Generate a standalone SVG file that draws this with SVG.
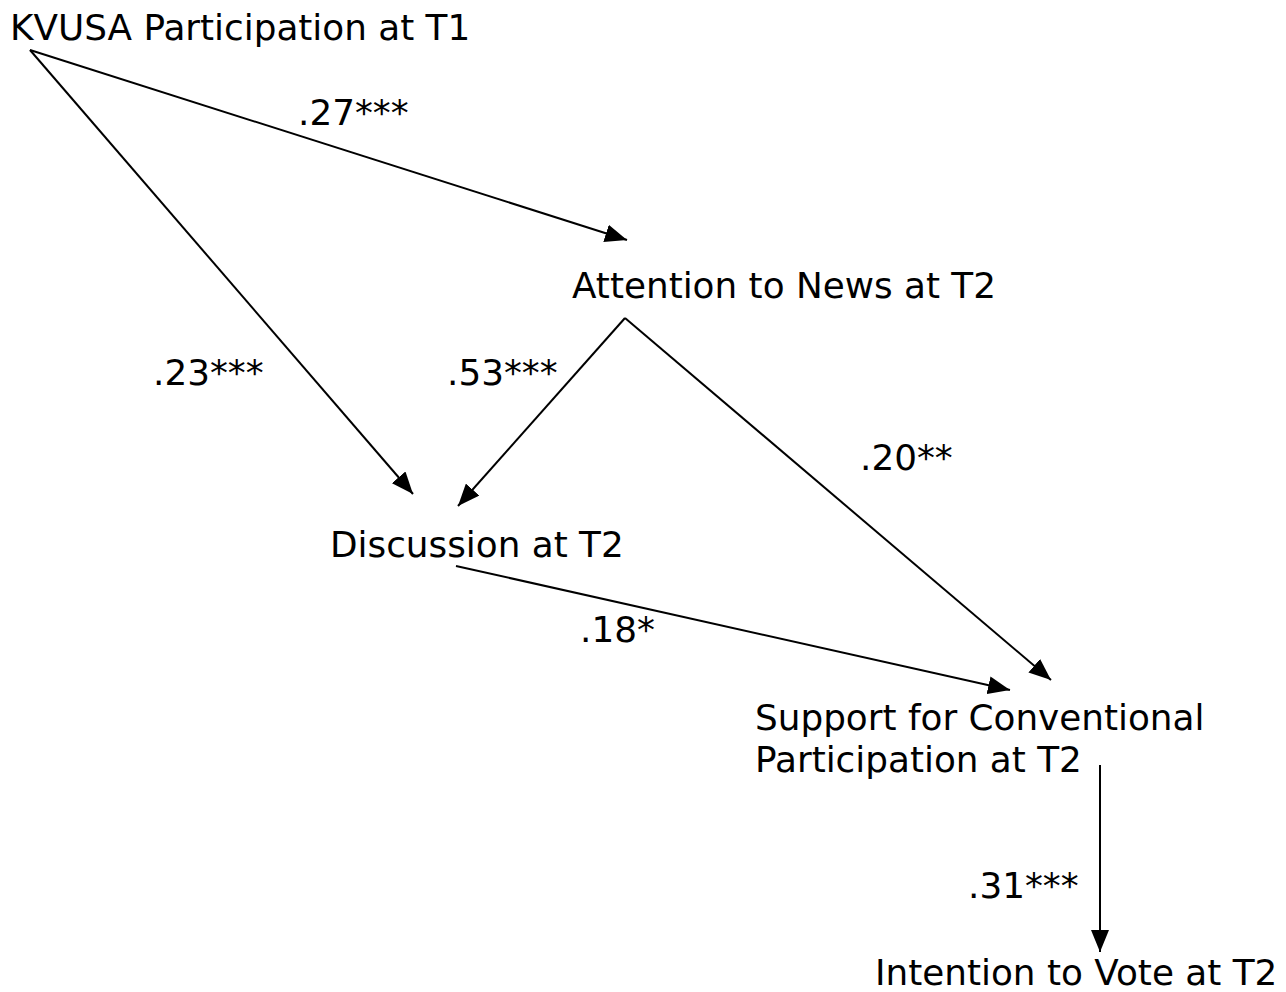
<svg xmlns="http://www.w3.org/2000/svg" width="1286" height="992" viewBox="0 0 1286 992">
<style>
text{font-family:"DejaVu Sans",Verdana,sans-serif;font-size:35.8px;fill:#000}
.c line{stroke:#000;stroke-width:2;marker-end:url(#ah)}
</style>
<defs>
<marker id="ah" viewBox="0 0 22 18" refX="22" refY="9" markerWidth="22" markerHeight="18" markerUnits="userSpaceOnUse" orient="auto">
<path d="M0,0L22,9L0,18z" fill="#000"/>
</marker>
</defs>
<rect width="1286" height="992" fill="#fff"/>
<g class="c" id="connectors">
<line x1="30" y1="50" x2="627" y2="240"/>
<line x1="30" y1="50" x2="413" y2="494"/>
<line x1="625" y1="318" x2="458" y2="506"/>
<line x1="625" y1="318" x2="1051" y2="680"/>
<line x1="456" y1="566" x2="1010" y2="690"/>
<line x1="1100" y1="765" x2="1100" y2="952"/>
</g>
<g id="labels">
<text x="298" y="125">.27***</text>
<text x="153" y="385">.23***</text>
<text x="447" y="385">.53***</text>
<text x="860" y="470">.20**</text>
<text x="580" y="642">.18*</text>
<text x="968" y="898">.31***</text>
</g>
<g id="kvusa"><text x="10" y="40">KVUSA Participation at T1</text></g>
<g id="news"><text x="572" y="298">Attention to News at T2</text></g>
<g id="discussion"><text x="330" y="557">Discussion at T2</text></g>
<g id="support"><text x="755" y="730">Support for Conventional</text><text x="755" y="772">Participation at T2</text></g>
<g id="vote"><text x="875" y="985">Intention to Vote at T2</text></g>
</svg>
